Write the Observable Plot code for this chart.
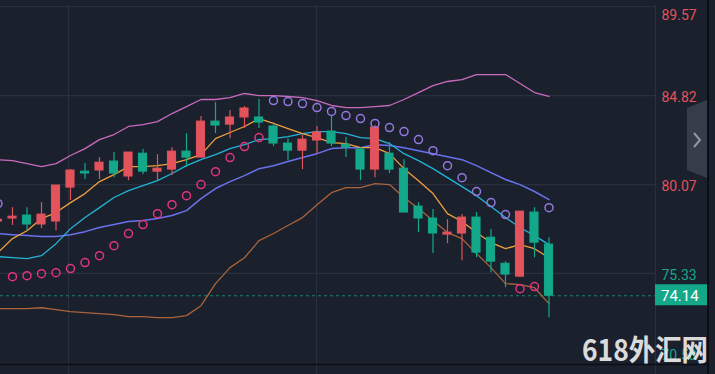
<!DOCTYPE html>
<html><head><meta charset="utf-8">
<script src="https://cdn.jsdelivr.net/npm/d3@7"></script>
<script src="https://cdn.jsdelivr.net/npm/@observablehq/plot@0.6"></script>
<style>
html,body{margin:0;padding:0;background:#1b202d;}
#chart{position:relative;width:715px;height:374px;overflow:hidden;background:#1b202d;}
</style></head><body><div id="chart"></div>
<script>
// OHLC per candle (index 0 is partly cut off at the left edge)
const opens  = [78.10,78.26,78.42,77.94,78.10,79.91,80.76,80.82,81.30,80.50,81.72,80.76,80.87,81.83,81.51,83.43,83.27,83.65,83.65,83.17,82.26,81.88,82.42,82.90,82.20,81.94,80.87,81.72,80.92,78.90,78.26,77.40,77.46,78.31,77.24,75.85,75.16,78.58,76.87];
const highs  = [78.47,78.84,78.84,79.11,80.02,80.87,81.19,81.51,81.78,81.78,81.94,81.67,82.04,82.79,83.70,84.45,84.02,84.23,84.61,83.38,82.52,82.69,83.17,83.75,82.58,82.04,83.22,82.31,81.40,79.11,78.74,78.20,78.47,78.58,77.67,75.96,78.63,78.84,77.24];
const lows   = [77.83,77.89,77.61,77.72,77.61,79.22,80.34,80.34,80.44,80.28,80.60,80.28,80.55,80.98,81.51,82.79,82.52,83.06,83.06,82.10,81.35,80.87,81.67,82.10,81.51,80.28,80.44,80.66,78.58,77.51,76.39,76.92,76.01,76.17,75.37,74.57,75.11,76.17,72.97];
const closes = [78.20,78.36,77.94,78.47,80.02,80.82,80.66,81.24,80.66,81.78,80.76,80.92,81.83,81.51,83.43,83.22,83.65,84.13,83.38,82.26,81.88,82.47,82.85,82.26,82.04,80.87,83.11,80.87,78.58,78.26,77.46,77.51,78.31,76.44,75.96,75.27,78.63,76.97,74.14];
// indicators
const upperBand = [81.40,81.35,81.19,81.03,81.19,81.62,81.99,82.47,82.74,83.17,83.27,83.43,83.86,84.23,84.61,84.61,84.71,84.93,84.82,84.82,84.77,84.71,84.55,84.29,84.18,84.18,84.23,84.29,84.61,84.98,85.35,85.57,85.67,85.94,85.94,85.94,85.46,84.98,84.77];
const lowerBand = [73.45,73.45,73.45,73.50,73.40,73.29,73.24,73.19,73.13,73.03,73.03,72.97,72.97,73.08,73.61,74.79,75.64,76.17,77.08,77.46,77.89,78.31,79.00,79.64,79.91,79.91,80.12,80.07,79.38,78.79,78.15,77.51,77.19,76.39,75.64,74.79,74.73,74.57,73.72];
const maFast = [76.44,77.19,77.61,78.26,78.58,79.11,79.59,80.23,80.60,81.03,81.03,81.08,81.19,81.40,81.67,82.52,82.85,83.17,83.59,83.33,83.06,82.79,82.58,82.31,82.26,82.04,82.04,81.72,80.92,80.28,79.59,78.52,78.10,77.51,76.97,76.65,76.87,76.65,76.17];
const maMid  = [76.23,76.17,76.12,76.28,76.92,77.72,78.31,78.84,79.38,79.75,80.02,80.28,80.66,81.08,81.40,81.67,81.99,82.20,82.47,82.52,82.63,82.79,82.90,82.90,82.79,82.58,82.52,82.26,81.72,81.35,80.92,80.44,79.96,79.48,78.90,78.31,77.78,77.35,76.87];
const maSlow = [77.46,77.40,77.35,77.30,77.30,77.40,77.56,77.78,77.94,78.10,78.15,78.26,78.42,78.68,79.32,79.86,80.23,80.55,80.92,81.08,81.30,81.51,81.72,81.99,82.04,82.04,82.20,82.15,82.04,81.88,81.72,81.56,81.40,81.08,80.71,80.34,80.07,79.70,79.27];
const sar = [79.06,75.16,75.21,75.32,75.37,75.59,75.91,76.28,76.81,77.46,77.94,78.52,79.00,79.48,80.07,80.76,81.51,82.10,82.58,84.55,84.50,84.39,84.18,83.97,83.75,83.59,83.33,83.11,82.90,82.47,81.88,81.08,80.44,79.70,79.11,78.47,74.52,74.63,78.84];
// axis
const yTicks = ["89.57","84.82","80.07","75.33","70.58"];
const timeGrid = [4.86, 21.97];
const lastPrice = 74.14;
const refPrice = closes[closes.length - 2];

const RED = "#e2535c", GREEN = "#13a88a", GRID = "#283040", BG = "#1b202d";
const candles = closes.map((c, i) => ({i, open: opens[i], high: highs[i], low: lows[i], close: c}));
const col = d => d.close >= d.open ? RED : GREEN;
const tickVals = yTicks.map(Number);

const lineMark = (arr, stroke, w) => Plot.line(candles, {x: "i", y: d => arr[d.i], stroke, strokeWidth: w, clip: true});

const plot = Plot.plot({
  width: 715, height: 374,
  marginLeft: 0, marginRight: 60, marginTop: 5, marginBottom: 0,
  style: {background: BG, fontFamily: "Roboto, sans-serif"},
  x: {domain: [0.1724, 45.345], axis: null},
  y: {domain: [70.58, 89.57], range: [362, 6], axis: null},
  marks: [
    Plot.ruleY(tickVals.slice(0, 4), {y: d => d, stroke: GRID, strokeWidth: 1.2}),
    Plot.ruleX(timeGrid, {x: d => d, stroke: GRID, strokeWidth: 1.2}),
    Plot.ruleX([45.345], {x: d => d, stroke: GRID, strokeWidth: 1.2}),
    Plot.ruleY([lastPrice], {y: d => d, stroke: "#1d806c", strokeDasharray: "3,3", strokeWidth: 1.2}),
    lineMark(upperBand, "#c96bbd", 1.3),
    lineMark(lowerBand, "#a9643a", 1.3),
    lineMark(maSlow, "#6a72ee", 1.5),
    lineMark(maMid, "#22b5d6", 1.3),
    lineMark(maFast, "#f0a03a", 1.3),
    Plot.ruleX(candles, {x: "i", y1: "low", y2: "high", stroke: col, strokeWidth: 1.2, clip: true}),
    Plot.rect(candles, {x1: d => d.i - 0.28, x2: d => d.i + 0.28, y1: "open", y2: "close", fill: col, stroke: col, strokeWidth: 1, clip: true}),
    Plot.dot(candles, {x: "i", y: d => sar[d.i], r: 4, fill: "none", strokeWidth: 1.5,
      stroke: d => sar[d.i] > d.close ? "#9478de" : "#e0347c", clip: true}),
    Plot.text(tickVals.slice(1, 4), {y: d => d, text: d => d.toFixed(2), frameAnchor: "right", textAnchor: "start",
      dx: 6, dy: 2, fontSize: 14, fill: d => d > refPrice ? RED : GREEN}),
    Plot.text([tickVals[0]], {y: d => d, text: d => d.toFixed(2), frameAnchor: "right", textAnchor: "start",
      dx: 6, dy: 9, fontSize: 14, fill: RED}),
    Plot.text([tickVals[4]], {y: d => d, text: d => d.toFixed(2), frameAnchor: "right", textAnchor: "start",
      dx: 6, dy: -7, fontSize: 14, fill: GREEN})
  ]
});

const svg = d3.select(plot);
// bottom border and right separator
svg.append("line").attr("x1", 0).attr("x2", 708).attr("y1", 364.5).attr("y2", 364.5).attr("stroke", "#0b0e14").attr("stroke-width", 1.5);
svg.append("line").attr("x1", 708).attr("x2", 708).attr("y1", 0).attr("y2", 374).attr("stroke", "#0b0e14").attr("stroke-width", 2);
// last price tag
const yl = plot.scale("y").apply(lastPrice);
svg.append("rect").attr("x", 655).attr("y", yl - 11).attr("width", 52).attr("height", 21).attr("fill", GREEN);
svg.append("text").attr("x", 661).attr("y", yl).attr("dy", "0.36em").attr("fill", "#ffffff").attr("text-anchor", "start")
  .attr("font-size", 15).attr("font-family", "Roboto, sans-serif").text(lastPrice.toFixed(2));
// side tab with chevron
svg.append("path").attr("d", "M687,108 L707,100 L707,178 L687,170 Z").attr("fill", "#363c4a");
svg.append("path").attr("d", "M694,133 L700,140 L694,147").attr("fill", "none").attr("stroke", "#8e96a4").attr("stroke-width", 2);
// watermark
svg.append("text").attr("x", 582).attr("y", 361).attr("fill", "#e6e6e6").attr("opacity", 0.95).attr("text-anchor", "start")
  .attr("font-size", 29).attr("font-weight", "bold").attr("font-family", "'Noto Sans CJK SC', sans-serif")
  .attr("textLength", 126).attr("lengthAdjust", "spacingAndGlyphs").text("618外汇网");

document.getElementById("chart").appendChild(plot);
</script></body></html>
